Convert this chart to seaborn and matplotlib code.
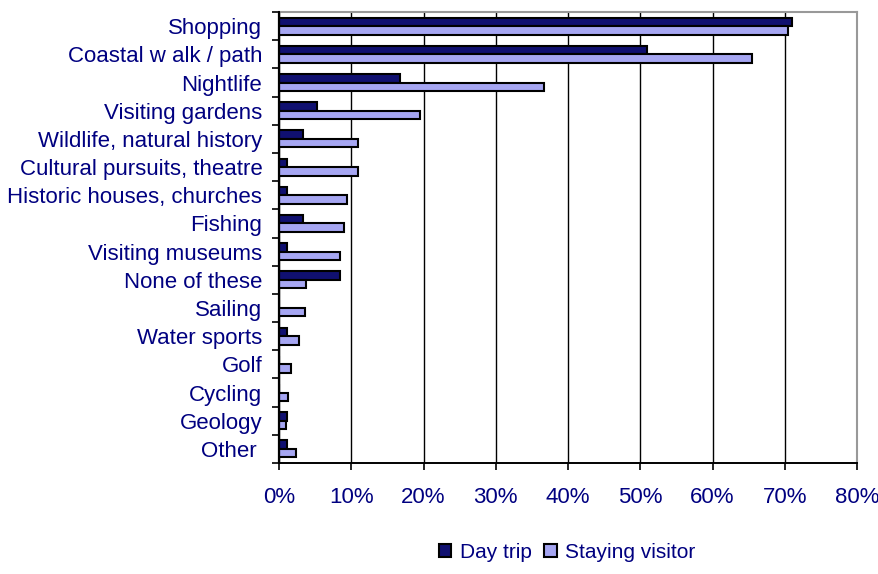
# Horizontal grouped bar chart: activities by visitor type

import numpy as np
import pandas as pd
import seaborn as sns
import matplotlib.pyplot as plt
from matplotlib.ticker import FixedLocator

# data (percent)
activities = ["Shopping", "Coastal w alk / path", "Nightlife", "Visiting gardens",
              "Wildlife, natural history", "Cultural pursuits, theatre",
              "Historic houses, churches", "Fishing", "Visiting museums",
              "None of these", "Sailing", "Water sports", "Golf", "Cycling",
              "Geology", "Other "]
day_trip = [71.0, 50.9, 16.8, 5.2, 3.3, 1.1, 1.1, 3.3, 1.1, 8.5, 0.0, 1.1, 0.0, 0.0, 1.1, 1.1]
staying = [70.4, 65.5, 36.7, 19.5, 11.0, 11.0, 9.4, 9.0, 8.5, 3.8, 3.6, 2.7, 1.6, 1.3, 1.0, 2.4]
series = ["Day trip", "Staying visitor"]
x_ticks = [0, 10, 20, 30, 40, 50, 60, 70, 80]

# long table for seaborn
df = pd.DataFrame({
    "Activity": activities * 2,
    "Percent": day_trip + staying,
    "Visitor": [series[0]] * len(activities) + [series[1]] * len(activities),
})

sns.set_style("white")
plt.rcParams['font.family'] = ['Liberation Sans', 'DejaVu Sans']
text_col = "#000080"

fig = plt.figure(figsize=(8.79, 5.74), dpi=100)
ax = fig.add_axes([0.3174, 0.1934, 0.6576, 0.7856])

sns.barplot(data=df, y="Activity", x="Percent", hue="Visitor", orient="h",
            order=activities, hue_order=series,
            palette=["#000080", "#9999FF"], edgecolor="black", linewidth=1.5,
            width=0.6, gap=0, ax=ax)

# axes and grid
ax.set_xlim(0, 80)
ax.set_ylim(len(activities) - 0.5, -0.5)
ax.set_xticks(x_ticks)
ax.set_xticklabels([f"{v}%" for v in x_ticks])
ax.xaxis.grid(True, color="black", linewidth=1.0)
ax.set_axisbelow(True)
ax.set_xlabel("")
ax.set_ylabel("")

# tick marks between categories on the y axis
ax.yaxis.set_minor_locator(FixedLocator(np.arange(-0.5, len(activities), 1)))
ax.tick_params(axis="y", which="major", length=0, pad=12, labelsize=16, labelcolor=text_col)
ax.tick_params(axis="y", which="minor", length=5, width=1.2, color="black", direction="out", left=True)
ax.tick_params(axis="x", which="major", length=5, width=1.2, color="black", direction="out",
               bottom=True, pad=12, labelsize=16, labelcolor=text_col)

for s in ["left", "bottom"]:
    ax.spines[s].set_visible(True)
    ax.spines[s].set_color("black")
    ax.spines[s].set_linewidth(1.4)
    ax.spines[s].set_zorder(5)
for s in ["top", "right"]:
    ax.spines[s].set_color("#999999")
    ax.spines[s].set_linewidth(1.5)
# make sure the value axis line at 0 shows
ax.axvline(0, color="black", linewidth=1.6, zorder=6, clip_on=False)

# legend at the bottom
handles, labels = ax.get_legend_handles_labels()
ax.legend_.remove()
fig.legend(handles, labels, loc="center", bbox_to_anchor=(0.645, 0.038), ncol=2,
           frameon=False, fontsize=15, labelcolor=text_col, handlelength=0.6,
           handleheight=0.6, handletextpad=0.4, columnspacing=0.6)

fig.savefig("out.png", dpi=100)
